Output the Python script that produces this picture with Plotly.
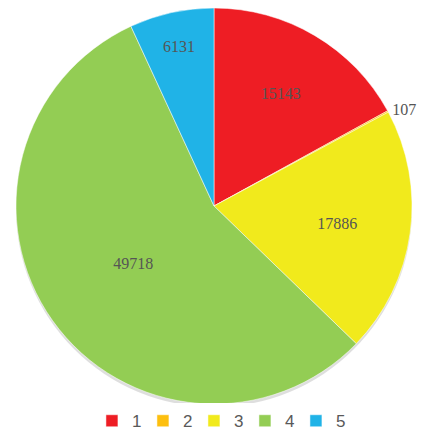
import plotly.graph_objects as go

# Category labels and their counts
categories = ["1", "2", "3", "4", "5"]
values = [15143, 107, 17886, 49718, 6131]
colors = ["#EE1D24", "#FDBF0F", "#F1EA1C", "#93CD54", "#20B3E7"]
text_positions = ["inside", "outside", "inside", "inside", "inside"]

W, H = 422, 434
cx, cy, r = 214, 206, 198


def pie_domain(dx=0, dy=0):
    return dict(x=[(cx + dx - r) / W, (cx + dx + r) / W],
                y=[(H - cy - dy - r) / H, (H - cy - dy + r) / H])


fig = go.Figure()

# soft drop shadow under the pie
fig.add_trace(
    go.Pie(
        values=[1],
        labels=["shadow"],
        marker=dict(colors=["rgba(0,0,0,0.13)"], line=dict(width=0)),
        textinfo="none",
        hoverinfo="skip",
        showlegend=False,
        domain=pie_domain(0, 3),
    )
)

fig.add_trace(
    go.Pie(
        labels=categories,
        values=values,
        sort=False,
        direction="clockwise",
        rotation=0,
        marker=dict(colors=colors, line=dict(color="white", width=0.5)),
        texttemplate="%{value:d}",
        textposition=text_positions,
        insidetextorientation="horizontal",
        textfont=dict(family="Liberation Serif", size=16, color="#555555"),
        outsidetextfont=dict(family="Liberation Serif", size=16, color="#555555"),
        domain=pie_domain(),
        hoverinfo="label+value",
    )
)

fig.update_layout(
    width=W,
    height=H,
    margin=dict(l=0, r=0, t=0, b=0, autoexpand=False),
    paper_bgcolor="white",
    showlegend=True,
    legend=dict(
        orientation="h",
        x=0.52,
        xanchor="center",
        y=-0.012,
        yanchor="bottom",
        font=dict(family="Liberation Sans", size=17, color="#595959"),
        itemwidth=30,
        entrywidth=6,
        entrywidthmode="pixels",
        tracegroupgap=0,
    ),
    uniformtext=dict(minsize=16, mode="show"),
)

fig.write_html("out.html")
